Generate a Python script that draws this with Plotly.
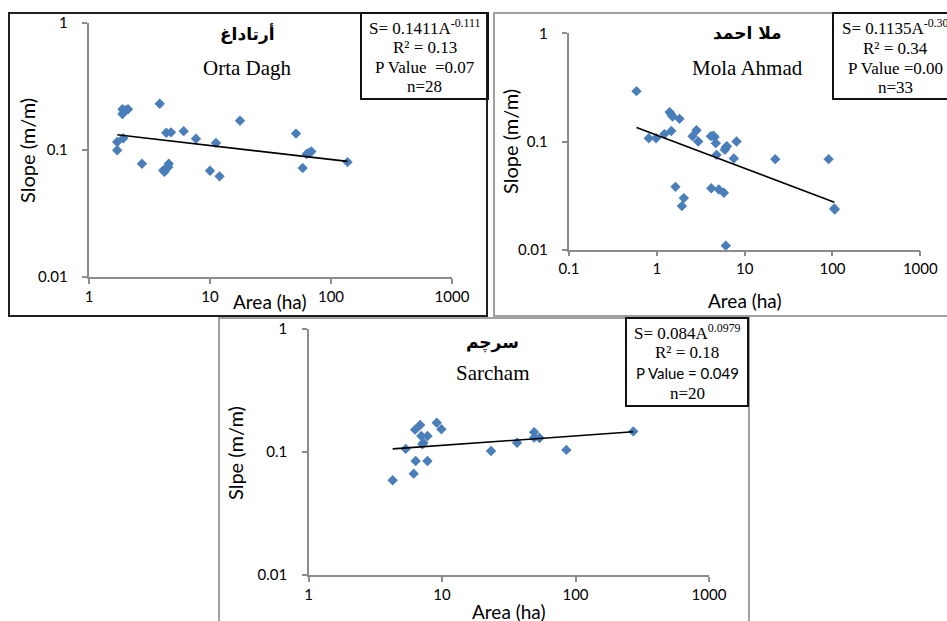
import plotly.graph_objects as go

W, H = 947, 621

# ---------------- data ----------------
orta_area = [1.71, 1.71, 1.92, 1.89, 1.89, 2.10, 2.00, 3.84, 2.74, 4.35, 4.76, 6.06, 7.66, 11.2,
             17.7, 10.0, 12.0, 4.11, 4.33, 4.56, 4.52, 4.20, 51.4, 58.3, 63.0, 65.8, 68.8, 137]
orta_slope = [0.099, 0.115, 0.123, 0.191, 0.208, 0.208, 0.205, 0.230, 0.0777, 0.136, 0.137, 0.140,
              0.122, 0.113, 0.169, 0.0684, 0.0618, 0.0689, 0.0713, 0.0777, 0.0731, 0.067, 0.134,
              0.0718, 0.0925, 0.0947, 0.097, 0.080]
orta_trend_area = [1.71, 137]
orta_trend_slope = [0.131, 0.081]

mola_area = [0.587, 0.81, 0.98, 1.22, 1.46, 1.40, 1.51, 1.81, 1.63, 2.03, 1.93, 2.55, 2.83, 2.96,
             4.12, 4.54, 4.69, 4.79, 4.17, 5.08, 5.80, 5.95, 6.27, 6.10, 7.53, 8.09, 22.3, 90.3,
             105, 106, 4.40, 6.10, 1.45]
mola_slope = [0.292, 0.107, 0.107, 0.117, 0.125, 0.187, 0.170, 0.162, 0.0381, 0.030, 0.0253, 0.112,
              0.127, 0.100, 0.112, 0.110, 0.0966, 0.0753, 0.037, 0.036, 0.0336, 0.0838, 0.0906,
              0.0109, 0.0697, 0.100, 0.0687, 0.0687, 0.024, 0.0235, 0.113, 0.088, 0.180]
mola_trend_area = [0.587, 105]
mola_trend_slope = [0.1346, 0.0275]

sarcham_area = [4.27, 5.35, 6.14, 6.35, 6.29, 6.86, 7.00, 7.78, 7.25, 7.14, 7.78, 9.13, 9.90,
                23.3, 36.5, 49.0, 49.0, 53.8, 85.4, 271]
sarcham_slope = [0.0589, 0.106, 0.0667, 0.0845, 0.152, 0.166, 0.135, 0.135, 0.119, 0.1155, 0.0845,
                 0.173, 0.153, 0.102, 0.119, 0.145, 0.131, 0.130, 0.104, 0.147]
sarcham_trend_area = [4.27, 271]
sarcham_trend_slope = [0.106, 0.146]

y_tickvals = [0.01, 0.1, 1]
y_ticktext = ["0.01", "0.1", "1"]
x_tickvals_a = [1, 10, 100, 1000]
x_ticktext_a = ["1", "10", "100", "1000"]
x_tickvals_b = [0.1, 1, 10, 100, 1000]
x_ticktext_b = ["0.1", "1", "10", "100", "1000"]

# ---------------- helpers for layout positions ----------------
def fx(px):
    return px / W

def fy(py):
    return 1 - py / H

MARK = "#4a7ebb"
AXC = "#8c8c8c"
TICKFONT = dict(family="Lato, Liberation Sans, sans-serif", size=15, color="#000")
SERIF = "Liberation Serif, Times New Roman, serif"
SANS = "Lato, Liberation Sans, sans-serif"
PAD = "\u00a0\u00a0\u00a0"

fig = go.Figure()

panels = [
    dict(ax="", area=orta_area, slope=orta_slope, ta=orta_trend_area, ts=orta_trend_slope,
         xdom=(89, 452), ydom=(22.5, 277), xr=[0, 3], xt=(x_tickvals_a, x_ticktext_a)),
    dict(ax="2", area=mola_area, slope=mola_slope, ta=mola_trend_area, ts=mola_trend_slope,
         xdom=(569, 920.3), ydom=(33.3, 249.7), xr=[-1, 3], xt=(x_tickvals_b, x_ticktext_b)),
    dict(ax="3", area=sarcham_area, slope=sarcham_slope, ta=sarcham_trend_area, ts=sarcham_trend_slope,
         xdom=(308.5, 709), ydom=(329, 575), xr=[0, 3], xt=(x_tickvals_a, x_ticktext_a)),
]

layout = {}
for p in panels:
    xa = "x" + p["ax"]
    ya = "y" + p["ax"]
    fig.add_trace(go.Scatter(x=p["area"], y=p["slope"], mode="markers",
                             marker=dict(symbol="diamond", size=8, color=MARK),
                             xaxis=xa, yaxis=ya, showlegend=False, cliponaxis=False))
    fig.add_trace(go.Scatter(x=p["ta"], y=p["ts"], mode="lines",
                             line=dict(color="#000", width=1.6),
                             xaxis=xa, yaxis=ya, showlegend=False))
    layout["xaxis" + p["ax"]] = dict(
        type="log", range=p["xr"], domain=[fx(p["xdom"][0]), fx(p["xdom"][1])], automargin=False,
        anchor=ya, showgrid=False, zeroline=False, showline=True, linecolor=AXC, linewidth=1.5,
        ticks="outside", ticklen=5, tickwidth=1.5, tickcolor=AXC,
        tickvals=p["xt"][0], ticktext=p["xt"][1], tickfont=TICKFONT)
    layout["yaxis" + p["ax"]] = dict(
        type="log", range=[-2, 0], domain=[fy(p["ydom"][1]), fy(p["ydom"][0])], automargin=False,
        anchor=xa, showgrid=False, zeroline=False, showline=True, linecolor=AXC, linewidth=1.5,
        ticks="outside", ticklen=5, tickwidth=1.5, tickcolor=AXC,
        tickvals=y_tickvals, ticktext=[t + PAD for t in y_ticktext], tickfont=TICKFONT)

shapes = []
def rect(x0, y0, x1, y1, color, width):
    shapes.append(dict(type="rect", xref="paper", yref="paper",
                       x0=fx(x0), x1=fx(x1), y0=fy(y1), y1=fy(y0),
                       line=dict(color=color, width=width), fillcolor="rgba(0,0,0,0)", layer="above"))

# panel frames
rect(9, 13, 487, 316, "#202020", 2)
rect(494, 13, 975, 316, "#a0a0a0", 2)
rect(219, 318, 749, 650, "#a0a0a0", 2)
# equation boxes
rect(361, 13, 488, 99, "#111", 2)
rect(833, 13, 975, 99, "#111", 2)
rect(626, 318, 748, 406, "#111", 2)

ann = []
def text(t, px, py, family, size, angle=0, anchor="center"):
    ann.append(dict(text=t, x=fx(px), y=fy(py), xref="paper", yref="paper",
                    xanchor=anchor, yanchor="middle", showarrow=False, textangle=angle,
                    font=dict(family=family, size=size, color="#000")))

ARAB = "DejaVu Sans, Noto Sans, sans-serif"
# titles
text("<b>أرتاداغ</b>", 247, 33, ARAB, 17)
text("Orta Dagh", 247, 68, SERIF, 21)
text("<b>ملا احمد</b>", 747, 33, ARAB, 17)
text("Mola Ahmad", 747, 68, SERIF, 21)
text("<b>سرچم</b>", 493, 342, ARAB, 17)
text("Sarcham", 493, 373, SERIF, 21)

# axis titles
text("Area (ha)", 270, 302, SANS, 19)
text("Slope (m/m)", 27, 151, SANS, 20, angle=-90)
text("Area (ha)", 745, 301, SANS, 19)
text("Slope (m/m)", 510, 142, SANS, 20, angle=-90)
text("Area (ha)", 509, 611, SANS, 19)
text("Slpe (m/m)", 235, 453, SANS, 20, angle=-90)

# equation boxes text
text("S= 0.1411A<sup>-0.111</sup>", 424.5, 27, SERIF, 17)
text("R² = 0.13", 424.5, 47, SERIF, 17)
text("P Value  =0.07", 424.5, 67, SERIF, 17)
text("n=28", 424.5, 87, SERIF, 17)

text("S= 0.1135A<sup>-0.30</sup>", 840, 27, SERIF, 17, anchor="left")
text("R² = 0.34", 895, 48, SERIF, 17)
text("P Value =0.00", 846, 68, SERIF, 17, anchor="left")
text("n=33", 895, 88, SERIF, 17)

text("S= 0.084A<sup>0.0979</sup>", 687, 332, SERIF, 17)
text("R² = 0.18", 687, 352, SERIF, 17)
text("P Value = 0.049", 687, 373, SANS, 15)
text("n=20", 687, 393, SERIF, 17)

fig.update_layout(width=W, height=H, margin=dict(l=0, r=0, t=0, b=0, pad=0), autosize=False,
                  paper_bgcolor="white", plot_bgcolor="white",
                  shapes=shapes, annotations=ann, **layout)

fig.write_html("out.html", config={"responsive": False, "displayModeBar": False},
               post_script="document.body.style.margin='0px';document.body.style.overflow='hidden';")
